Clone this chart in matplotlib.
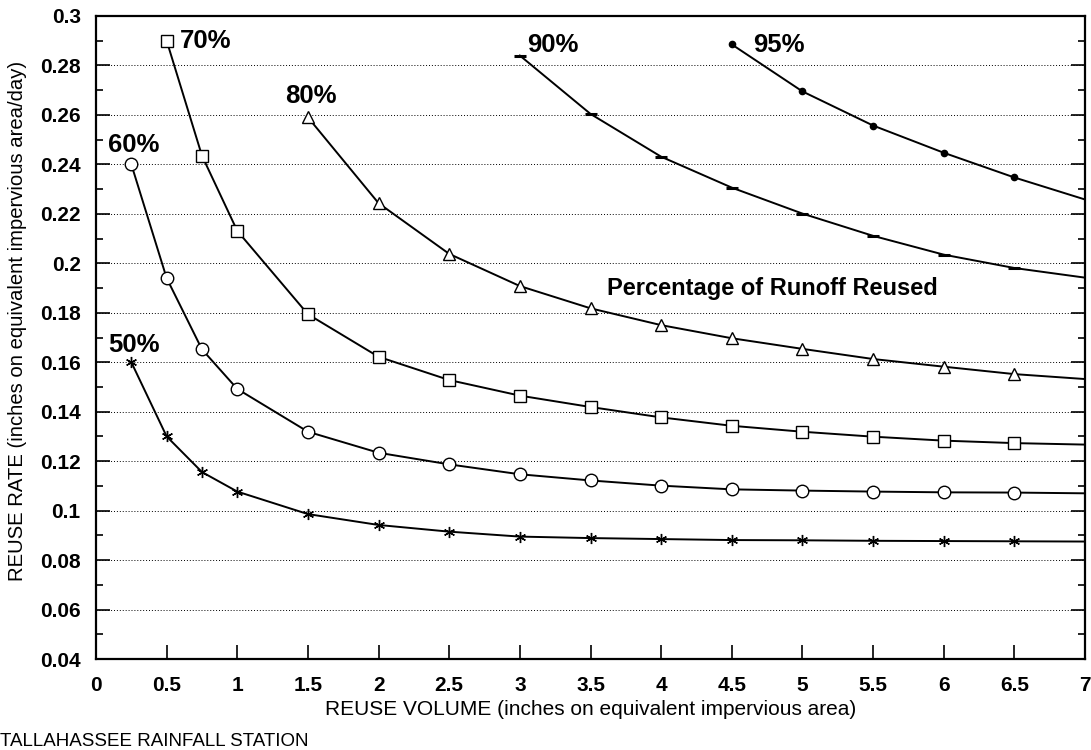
import matplotlib.pyplot as plt
from matplotlib.ticker import MultipleLocator

plt.rcParams['font.family'] = ['Liberation Sans', 'DejaVu Sans']

# reuse volume (inches on equivalent impervious area)
vol_50 = [0.25, 0.5, 0.75, 1, 1.5, 2, 2.5, 3, 3.5, 4, 4.5, 5, 5.5, 6, 6.5]
vol_60 = [0.25, 0.5, 0.75, 1, 1.5, 2, 2.5, 3, 3.5, 4, 4.5, 5, 5.5, 6, 6.5]
vol_70 = [0.5, 0.75, 1, 1.5, 2, 2.5, 3, 3.5, 4, 4.5, 5, 5.5, 6, 6.5]
vol_80 = [1.5, 2, 2.5, 3, 3.5, 4, 4.5, 5, 5.5, 6, 6.5]
vol_90 = [3, 3.5, 4, 4.5, 5, 5.5, 6, 6.5]
vol_95 = [4.5, 5, 5.5, 6, 6.5]

# reuse rate (inches/day)
rate_50 = [0.160, 0.130, 0.1156, 0.1077, 0.0986, 0.0942, 0.0915, 0.0895, 0.0889,
           0.0885, 0.0881, 0.0880, 0.0878, 0.0877, 0.0876]
rate_60 = [0.240, 0.194, 0.1652, 0.1492, 0.1319, 0.1234, 0.1187, 0.1147, 0.1122,
           0.1101, 0.1086, 0.1081, 0.1077, 0.1074, 0.1073]
rate_70 = [0.290, 0.2435, 0.2131, 0.1794, 0.1622, 0.1528, 0.1465, 0.1419, 0.1377,
           0.1343, 0.1319, 0.1299, 0.1283, 0.1273]
rate_80 = [0.259, 0.2243, 0.2038, 0.1908, 0.1818, 0.1750, 0.1697, 0.1654, 0.1613,
           0.1582, 0.1552]
rate_90 = [0.284, 0.2604, 0.2431, 0.2306, 0.2201, 0.2111, 0.2035, 0.1981]
rate_95 = [0.2885, 0.2695, 0.2557, 0.2447, 0.2347]

# curve values at the right edge (x = 7), line continues without marker
end_vol = 7
end_rate = {'50%': 0.0875, '60%': 0.1070, '70%': 0.1267, '80%': 0.1532,
            '90%': 0.1942, '95%': 0.2258}

fig = plt.figure(figsize=(10.91, 7.5), dpi=100)
ax = fig.add_axes([0.088, 0.1213, 0.9065, 0.8574])

series = [
    ('50%', vol_50, rate_50, dict(marker=(6, 2, 0), markersize=8, mfc='black')),
    ('60%', vol_60, rate_60, dict(marker='o', markersize=9, mfc='white')),
    ('70%', vol_70, rate_70, dict(marker='s', markersize=8, mfc='white')),
    ('80%', vol_80, rate_80, dict(marker='^', markersize=9, mfc='white')),
    ('90%', vol_90, rate_90, dict(marker='_', markersize=9, mew=2.2, mfc='black')),
    ('95%', vol_95, rate_95, dict(marker='o', markersize=4.5, mfc='black')),
]
for name, xs, ys, style in series:
    ax.plot(xs + [end_vol], ys + [end_rate[name]], color='black', lw=1.4,
            mec='black', markevery=list(range(len(xs))), zorder=3, **style)

# curve labels
lab_kw = dict(fontsize=18.5, fontweight='bold', color='black', va='baseline', ha='left')
ax.text(0.085, 0.1641, '50%', **lab_kw)
ax.text(0.085, 0.2450, '60%', **lab_kw)
ax.text(0.594, 0.2871, '70%', **lab_kw)
ax.text(1.338, 0.2648, '80%', **lab_kw)
ax.text(3.05, 0.2855, '90%', **lab_kw)
ax.text(4.65, 0.2854, '95%', **lab_kw)
ax.text(3.62, 0.1872, 'Percentage of Runoff Reused', fontsize=17, fontweight='bold',
        va='baseline', ha='left')

ax.set_xlim(0, 7)
ax.set_ylim(0.04, 0.3)
ax.set_xticks([i * 0.5 for i in range(15)])
ax.set_xticklabels(['0', '0.5', '1', '1.5', '2', '2.5', '3', '3.5', '4', '4.5',
                    '5', '5.5', '6', '6.5', '7'])
ax.set_yticks([0.04 + 0.02 * i for i in range(14)])
ax.set_yticklabels(['0.04', '0.06', '0.08', '0.1', '0.12', '0.14', '0.16', '0.18',
                    '0.2', '0.22', '0.24', '0.26', '0.28', '0.3'])
ax.yaxis.set_minor_locator(MultipleLocator(0.01))
ax.tick_params(which='major', direction='in', length=10, width=1.2, labelsize=15,
               right=True)
ax.tick_params(which='minor', direction='in', length=5, width=1.2, right=True)
ax.tick_params(axis='x', pad=12)
ax.tick_params(axis='y', pad=11)
for lab in ax.get_xticklabels() + ax.get_yticklabels():
    lab.set_fontweight('bold')
ax.grid(axis='y', which='major', linestyle=(0, (1, 2)), color='black', lw=0.7)
for s in ax.spines.values():
    s.set_linewidth(1.6)

ax.set_xlabel('REUSE VOLUME (inches on equivalent impervious area)', fontsize=15)
ax.set_ylabel('REUSE RATE (inches on equivalent impervious area/day)', fontsize=14.6)
ax.xaxis.set_label_coords(0.5005, -0.0636)
ax.yaxis.set_label_coords(-0.0698, 0.526)
fig.text(0.0, 0.006, 'TALLAHASSEE RAINFALL STATION', fontsize=13.5, ha='left',
         va='baseline')

plt.savefig('out.png', dpi=100)
